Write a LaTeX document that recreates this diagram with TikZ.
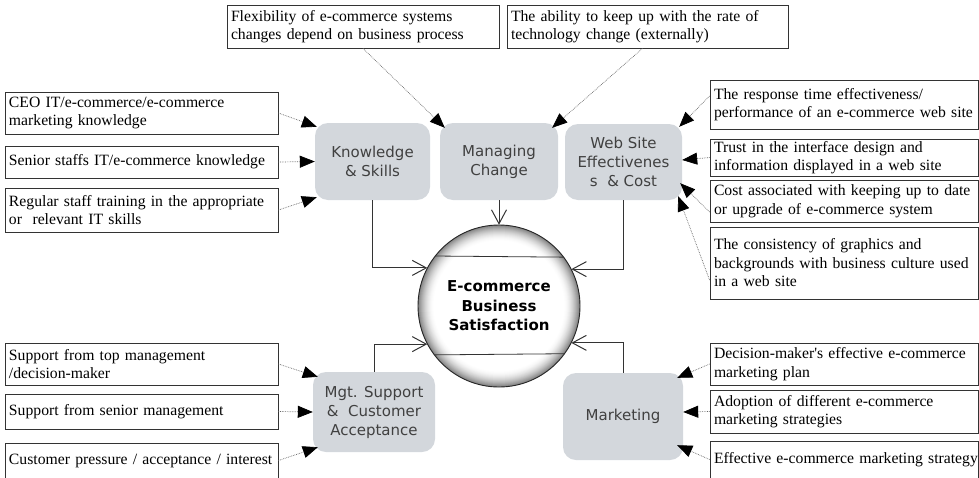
\documentclass[tikz,border=0pt]{standalone}
\usepackage{fontspec}
\setmainfont{Liberation Serif}
\newfontfamily\boxsans{DejaVu Sans}
\usetikzlibrary{arrows.meta}

\definecolor{boxgray}{HTML}{D3D7DC}

\tikzset{
  factor/.style n args={2}{draw=black!80, line width=0.8pt, fill=white,
    inner xsep=4pt, inner ysep=2pt, align=left,
    minimum width=#1, minimum height=#2, text width=#1-8pt,
    font=\fontsize{15.7}{18.5}\selectfont},
  dimension/.style n args={2}{fill=boxgray, rounded corners=13pt, align=center,
    minimum width=#1, minimum height=#2, text=black!75,
    font=\boxsans\fontsize{15}{19}\selectfont},
  feed/.style={draw=black!60, densely dotted, line width=0.7pt,
    -{Triangle[length=15pt,width=12pt,black]}},
  link/.style={draw=black!80, line width=0.9pt,
    -{Straight Barb[length=14pt,width=15pt,line width=1pt]}}
}

\begin{document}
\begin{tikzpicture}[x=1pt,y=-1pt]
\useasboundingbox (0,0) rectangle (979,477);
\clip (0,0) rectangle (979,477);

% ---- four groups of factors around the centre ----
\node[dimension={115pt}{77pt}] (ks) at (372.5,161.5) {Knowledge\\\& Skills};
\node[dimension={118pt}{77pt}] (mc) at (499,161.5) {Managing\\Change};
\node[dimension={117pt}{76pt}] (ws) at (623.5,162) {Web Site\\Effectivenes\\s\ \ \& Cost};
\node[dimension={122pt}{80pt}] (ms) at (374,412) {Mgt. Support\\\&\ \ Customer\\Acceptance};
\node[dimension={120pt}{87pt}] (mk) at (623,416.5) {Marketing};

% ---- central outcome: white disc with a grey rim ----
\node[circle, minimum size=162pt, inner sep=0pt] (sat) at (499,306) {};
\foreach \k in {0,...,32}{
  \pgfmathsetmacro\rr{81-\k/2}
  \pgfmathsetmacro\cc{50*((32-\k)/32)^1.8}
  \fill[black!\cc] (sat.center) circle[radius=\rr pt];
}
\fill[white] (sat.center) circle[radius=64.5pt];
\draw[line width=0.9pt, black!85] (sat.center) circle[radius=81pt];
\draw[line width=0.8pt, black!80] (sat.142.8) -- (sat.37.2);
\draw[line width=0.8pt, black!80] (sat.-143.7) -- (sat.-36.3);
\node[align=center, font=\boxsans\bfseries\fontsize{15}{19.5}\selectfont]
  at (sat.center) {E-commerce\\Business\\Satisfaction};

% ---- factor boxes ----
\node[factor={273pt}{42pt}] (b1) at (141.5,113) {\mbox{CEO IT/e-commerce/e-commerce}\\\mbox{marketing knowledge}};
\node[factor={273pt}{32pt}] (b2) at (141.5,162) {\mbox{Senior staffs IT/e-commerce knowledge}};
\node[factor={273pt}{44pt}] (b3) at (141.5,210) {\mbox{Regular staff training in the appropriate}\\\mbox{or\ \ relevant IT skills}};

\node[factor={272pt}{43pt}] (t1) at (363,26.5) {\mbox{Flexibility of e-commerce systems}\\\mbox{changes depend on business process}};
\node[factor={281pt}{43pt}] (t2) at (647.5,26.5) {\mbox{The ability to keep up with the rate of}\\\mbox{technology change (externally)}};

\node[factor={268pt}{49pt}] (r1) at (844,104.5) {\mbox{The response time effectiveness/}\\\mbox{performance of an e-commerce web site}};
\node[factor={268pt}{37pt}] (r2) at (844,157.5) {\mbox{Trust in the interface design and}\\\mbox{information displayed in a web site}};
\node[factor={268pt}{42pt}] (r3) at (844,201) {\mbox{Cost associated with keeping up to date}\\\mbox{or upgrade of e-commerce system}};
\node[factor={268pt}{72pt}] (r4) at (844,263) {\mbox{The consistency of graphics and}\\\mbox{backgrounds with business culture used}\\\mbox{in a web site}};

\node[factor={273pt}{42pt}] (l4) at (141.5,364) {\mbox{Support from top management}\\\mbox{/decision-maker}};
\node[factor={273pt}{35pt}] (l5) at (141.5,411.5) {\mbox{Support from senior management}};
\node[factor={273pt}{35pt}] (l6) at (141.5,460.5) {\mbox{Customer pressure / acceptance / interest}};

\node[factor={268pt}{42pt}] (r5) at (844,364) {\mbox{Decision-maker\textquotesingle s effective e-commerce}\\\mbox{marketing plan}};
\node[factor={268pt}{43pt}] (r6) at (844,411.5) {\mbox{Adoption of different e-commerce}\\\mbox{marketing strategies}};
\node[factor={268pt}{37pt}] (r7) at (844,459.5) {\mbox{Effective e-commerce marketing strategy}};

% ---- factors feeding their group ----
\draw[feed] (b1.east) -- ([xshift=2pt,yshift=-4pt]ks.north west);
\draw[feed] (b2.east) -- (ks.west);
\draw[feed] (b3.east) -- ([xshift=2pt,yshift=3pt]ks.south west);

\draw[feed] (t1.south) -- ([xshift=5pt,yshift=-5pt]mc.north west);
\draw[feed] ([xshift=-5pt]t2.south) -- ([xshift=-6pt,yshift=-5pt]mc.north east);

\draw[feed] ([yshift=8.5pt]r1.west) -- ([xshift=-3pt,yshift=-3pt]ws.north east);
\draw[feed] (r2.west) -- ([yshift=2pt]ws.east);
\draw[feed] ([yshift=-11pt]r3.west) -- ([xshift=-2pt,yshift=17pt]ws.south east);
\draw[feed] ([yshift=-17pt]r4.west) -- ([xshift=-4pt,yshift=4pt]ws.south east);

\draw[feed] (l4.east) -- ([xshift=5pt,yshift=-5pt]ms.north west);
\draw[feed] (l5.east) -- (ms.west);
\draw[feed] (l6.east) -- ([xshift=5pt,yshift=5pt]ms.south west);

\draw[feed] (r5.west) -- ([xshift=-6pt,yshift=-5pt]mk.north east);
\draw[feed] (r6.west) -- ([yshift=4.5pt]mk.east);
\draw[feed] (r7.west) -- ([xshift=-6pt,yshift=15pt]mk.south east);

% ---- groups feeding the outcome ----
\draw[link] (ks.south) |- (sat.152.8);
\draw[link] (mc.south) -- (sat.north);
\draw[link] (ws.south) |- (sat.27.2);
\draw[link] (ms.north) |- (sat.-152.8);
\draw[link] (mk.north) |- (sat.-27.2);
\end{tikzpicture}
\end{document}
